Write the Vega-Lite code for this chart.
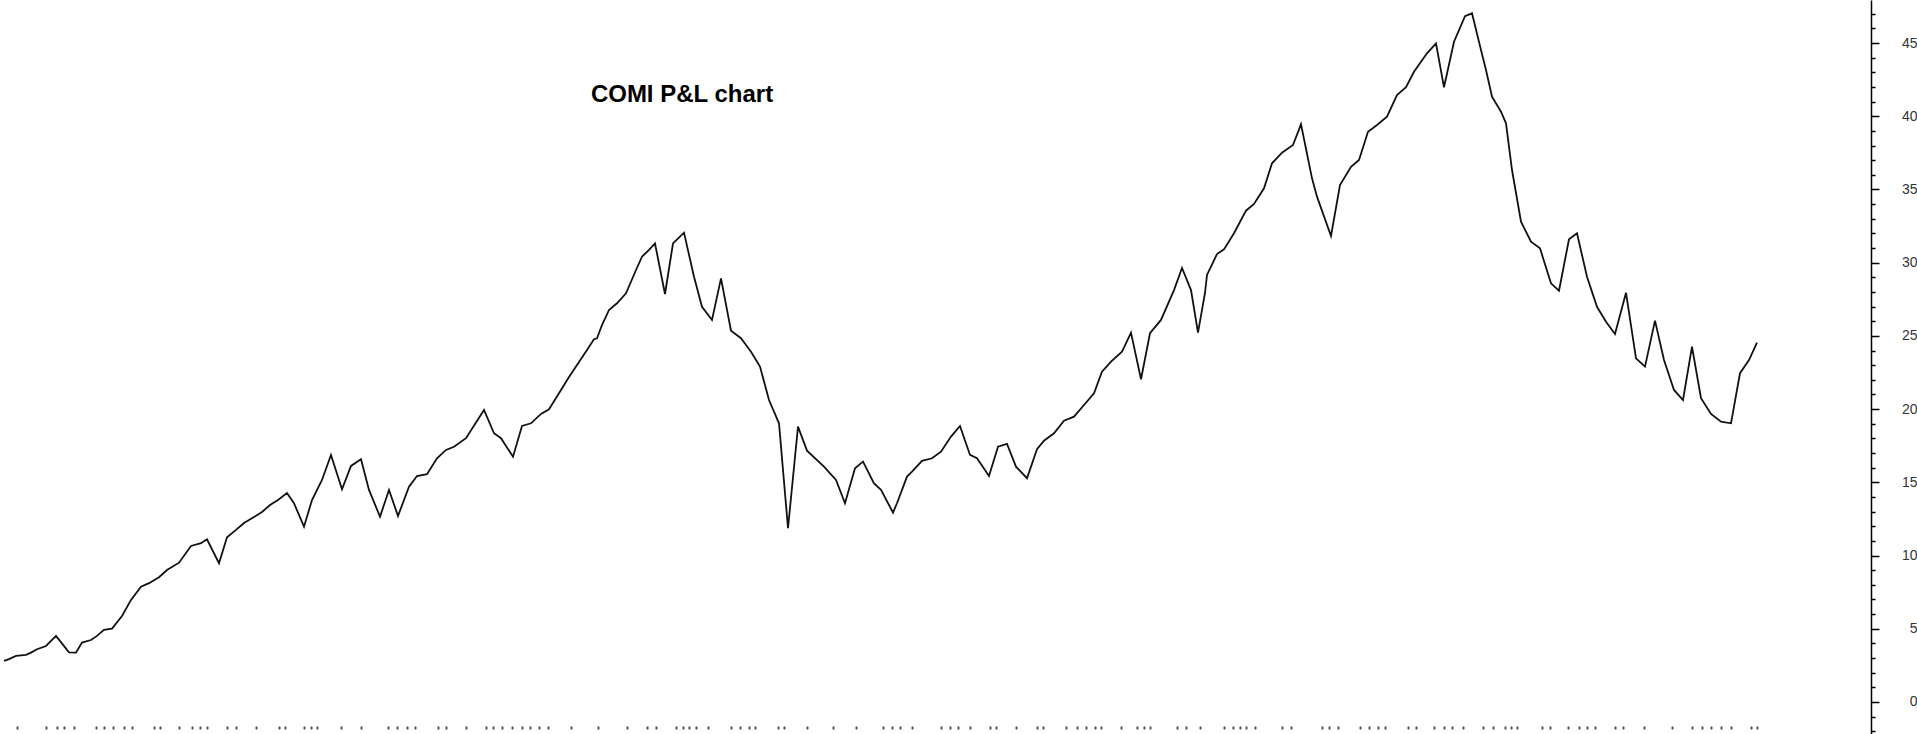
{
  "$schema": "https://vega.github.io/schema/vega-lite/v6.json",
  "width": 1867,
  "height": 734,
  "padding": 0,
  "background": "white",
  "config": {"view": {"stroke": null}},
  "datasets": {
    "pnl": [
      {"t":0,"pnl":2.80},{"t":5,"pnl":2.92},{"t":12,"pnl":3.14},{"t":22,"pnl":3.21},{"t":27,"pnl":3.37},{"t":33,"pnl":3.60},{"t":42,"pnl":3.82},{"t":52,"pnl":4.51},{"t":65,"pnl":3.39},{"t":72,"pnl":3.37},{"t":78,"pnl":4.05},{"t":87,"pnl":4.23},{"t":93,"pnl":4.51},{"t":100,"pnl":4.92},{"t":108,"pnl":5.01},{"t":118,"pnl":5.87},{"t":127,"pnl":6.97},{"t":137,"pnl":7.87},{"t":145,"pnl":8.11},{"t":155,"pnl":8.52},{"t":163,"pnl":9.01},{"t":175,"pnl":9.51},{"t":187,"pnl":10.65},{"t":197,"pnl":10.84},{"t":203,"pnl":11.11},{"t":215,"pnl":9.47},{"t":223,"pnl":11.25},{"t":232,"pnl":11.75},{"t":240,"pnl":12.22},{"t":250,"pnl":12.63},{"t":258,"pnl":12.97},{"t":266,"pnl":13.45},{"t":274,"pnl":13.79},{"t":283,"pnl":14.27},{"t":290,"pnl":13.57},{"t":300,"pnl":11.97},{"t":308,"pnl":13.79},{"t":318,"pnl":15.16},{"t":327,"pnl":16.87},{"t":338,"pnl":14.52},{"t":347,"pnl":16.12},{"t":357,"pnl":16.57},{"t":365,"pnl":14.48},{"t":376,"pnl":12.65},{"t":385,"pnl":14.48},{"t":394,"pnl":12.70},{"t":405,"pnl":14.70},{"t":413,"pnl":15.43},{"t":423,"pnl":15.55},{"t":433,"pnl":16.64},{"t":442,"pnl":17.21},{"t":450,"pnl":17.43},{"t":462,"pnl":18.01},{"t":480,"pnl":19.94},{"t":490,"pnl":18.35},{"t":497,"pnl":18.01},{"t":509,"pnl":16.75},{"t":518,"pnl":18.85},{"t":527,"pnl":19.03},{"t":537,"pnl":19.67},{"t":545,"pnl":19.99},{"t":557,"pnl":21.31},{"t":565,"pnl":22.19},{"t":575,"pnl":23.22},{"t":583,"pnl":24.04},{"t":590,"pnl":24.77},{"t":593,"pnl":24.84},{"t":598,"pnl":25.74},{"t":605,"pnl":26.77},{"t":613,"pnl":27.23},{"t":622,"pnl":27.91},{"t":632,"pnl":29.50},{"t":638,"pnl":30.41},{"t":645,"pnl":30.87},{"t":651,"pnl":31.32},{"t":661,"pnl":27.86},{"t":669,"pnl":31.32},{"t":680,"pnl":32.05},{"t":690,"pnl":29.04},{"t":698,"pnl":26.99},{"t":708,"pnl":26.09},{"t":717,"pnl":28.93},{"t":727,"pnl":25.35},{"t":737,"pnl":24.84},{"t":747,"pnl":23.92},{"t":756,"pnl":22.90},{"t":765,"pnl":20.62},{"t":775,"pnl":19.03},{"t":784,"pnl":11.86},{"t":794,"pnl":18.80},{"t":803,"pnl":17.16},{"t":820,"pnl":16.07},{"t":832,"pnl":15.16},{"t":841,"pnl":13.57},{"t":851,"pnl":15.96},{"t":859,"pnl":16.41},{"t":870,"pnl":14.93},{"t":877,"pnl":14.48},{"t":889,"pnl":12.93},{"t":893,"pnl":13.57},{"t":903,"pnl":15.39},{"t":908,"pnl":15.73},{"t":918,"pnl":16.46},{"t":928,"pnl":16.64},{"t":937,"pnl":17.09},{"t":947,"pnl":18.12},{"t":956,"pnl":18.85},{"t":966,"pnl":16.87},{"t":973,"pnl":16.64},{"t":985,"pnl":15.43},{"t":994,"pnl":17.43},{"t":1003,"pnl":17.62},{"t":1012,"pnl":16.07},{"t":1023,"pnl":15.28},{"t":1033,"pnl":17.26},{"t":1040,"pnl":17.84},{"t":1050,"pnl":18.35},{"t":1060,"pnl":19.21},{"t":1070,"pnl":19.48},{"t":1080,"pnl":20.28},{"t":1090,"pnl":21.08},{"t":1098,"pnl":22.55},{"t":1107,"pnl":23.24},{"t":1118,"pnl":23.92},{"t":1127,"pnl":25.22},{"t":1137,"pnl":22.04},{"t":1146,"pnl":25.18},{"t":1157,"pnl":26.09},{"t":1170,"pnl":28.13},{"t":1178,"pnl":29.64},{"t":1187,"pnl":28.13},{"t":1194,"pnl":25.22},{"t":1201,"pnl":27.93},{"t":1203,"pnl":29.16},{"t":1213,"pnl":30.59},{"t":1220,"pnl":30.91},{"t":1230,"pnl":32.01},{"t":1242,"pnl":33.55},{"t":1250,"pnl":34.01},{"t":1260,"pnl":35.08},{"t":1268,"pnl":36.79},{"t":1278,"pnl":37.51},{"t":1289,"pnl":38.04},{"t":1297,"pnl":39.45},{"t":1308,"pnl":35.76},{"t":1313,"pnl":34.51},{"t":1327,"pnl":31.82},{"t":1336,"pnl":35.30},{"t":1347,"pnl":36.55},{"t":1355,"pnl":37.01},{"t":1364,"pnl":38.94},{"t":1373,"pnl":39.40},{"t":1383,"pnl":39.97},{"t":1393,"pnl":41.45},{"t":1402,"pnl":41.98},{"t":1410,"pnl":43.04},{"t":1423,"pnl":44.30},{"t":1432,"pnl":44.98},{"t":1440,"pnl":41.98},{"t":1450,"pnl":45.09},{"t":1461,"pnl":46.84},{"t":1468,"pnl":47.03},{"t":1477,"pnl":44.52},{"t":1482,"pnl":43.16},{"t":1488,"pnl":41.33},{"t":1497,"pnl":40.31},{"t":1502,"pnl":39.52},{"t":1508,"pnl":36.33},{"t":1517,"pnl":32.80},{"t":1527,"pnl":31.43},{"t":1536,"pnl":30.98},{"t":1547,"pnl":28.59},{"t":1555,"pnl":28.09},{"t":1565,"pnl":31.60},{"t":1573,"pnl":32.01},{"t":1583,"pnl":29.04},{"t":1593,"pnl":26.99},{"t":1602,"pnl":25.97},{"t":1611,"pnl":25.13},{"t":1622,"pnl":27.95},{"t":1632,"pnl":23.47},{"t":1641,"pnl":22.90},{"t":1651,"pnl":26.04},{"t":1660,"pnl":23.35},{"t":1670,"pnl":21.31},{"t":1679,"pnl":20.62},{"t":1688,"pnl":24.26},{"t":1697,"pnl":20.74},{"t":1707,"pnl":19.67},{"t":1717,"pnl":19.14},{"t":1727,"pnl":19.03},{"t":1736,"pnl":22.45},{"t":1745,"pnl":23.35},{"t":1753,"pnl":24.54}
    ]
  },
  "layer": [
    {
      "data": {"name": "pnl"},
      "mark": {"type": "line", "color": "#111111", "strokeWidth": 1.8, "interpolate": "linear"},
      "encoding": {
        "x": {
          "field": "t", "type": "quantitative",
          "scale": {"domain": [0, 1867], "nice": false, "zero": false},
          "axis": {
            "orient": "bottom", "offset": -8, "domain": false, "labels": false, "grid": false, "title": null,
            "tickSize": 3, "tickWidth": 2, "tickColor": "#555555", "tickCount": 400,
            "values": [13,42,53,60,70,92,100,109,120,128,150,156,175,188,196,203,223,232,252,275,281,300,307,313,337,357,384,393,403,411,434,442,462,482,489,498,508,518,526,535,544,567,594,623,643,652,672,679,685,692,704,727,736,745,751,774,780,803,829,852,879,888,896,908,937,946,954,966,986,992,1012,1033,1039,1062,1073,1082,1091,1097,1117,1133,1140,1146,1173,1182,1196,1220,1229,1236,1242,1251,1278,1287,1318,1325,1334,1356,1365,1374,1381,1404,1412,1430,1440,1448,1459,1479,1489,1501,1507,1513,1538,1546,1564,1575,1583,1591,1611,1619,1640,1668,1688,1698,1707,1717,1727,1747,1753]
          }
        },
        "y": {
          "field": "pnl", "type": "quantitative",
          "scale": {"domain": [-2.19, 47.94], "nice": false, "zero": false},
          "axis": {
            "orient": "right", "title": null, "grid": false, "format": "d",
            "domain": true, "domainColor": "#000000", "domainWidth": 1.5,
            "tickColor": "#000000", "tickWidth": 1.5, "tickCount": 200,
            "tickSize": {"condition": {"test": "datum.value % 5 === 0", "value": 8}, "value": 4},
            "values": [-2,-1,0,1,2,3,4,5,6,7,8,9,10,11,12,13,14,15,16,17,18,19,20,21,22,23,24,25,26,27,28,29,30,31,32,33,34,35,36,37,38,39,40,41,42,43,44,45,46,47],
            "labelExpr": "(datum.value % 5 === 0 && datum.value >= 0) ? datum.label : ''",
            "labelOverlap": false, "labelBound": false,
            "labelAlign": "right", "labelPadding": 38, "labelBaseline": "middle",
            "labelFont": "Liberation Sans, Arial, sans-serif",
            "labelFontSize": 14, "labelColor": "#333333"
          }
        }
      }
    },
    {
      "data": {"values": [{"label": "COMI P&L chart"}]},
      "mark": {
        "type": "text", "align": "center", "baseline": "alphabetic",
        "font": "Liberation Sans, Arial, sans-serif",
        "fontSize": 24, "fontWeight": "bold", "color": "#000000"
      },
      "encoding": {
        "text": {"field": "label", "type": "nominal"},
        "x": {"datum": 678, "type": "quantitative"},
        "y": {"datum": 40.95, "type": "quantitative"}
      }
    }
  ]
}
